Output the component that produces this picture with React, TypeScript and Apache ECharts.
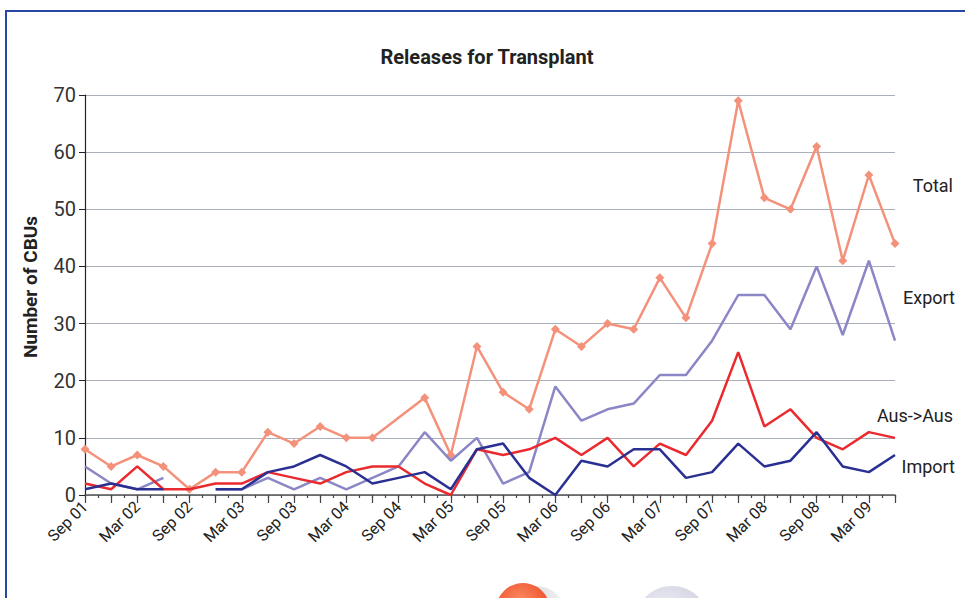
import React, { useEffect, useRef } from "react";
import * as echarts from "echarts";

const categories = [
  "Sep 01", "Dec 01", "Mar 02", "Jun 02", "Sep 02", "Dec 02", "Mar 03", "Jun 03",
  "Sep 03", "Dec 03", "Mar 04", "Jun 04", "Sep 04", "Dec 04", "Mar 05", "Jun 05",
  "Sep 05", "Dec 05", "Mar 06", "Jun 06", "Sep 06", "Dec 06", "Mar 07", "Jun 07",
  "Sep 07", "Dec 07", "Mar 08", "Jun 08", "Sep 08", "Dec 08", "Mar 09", "Jun 09",
];

const total = [8, 5, 7, 5, 1, 4, 4, 11, 9, 12, 10, 10, null, 17, 7, 26, 18, 15, 29, 26, 30, 29, 38, 31, 44, 69, 52, 50, 61, 41, 56, 44];
const exportVals = [5, 2, 1, 3, null, 1, 1, 3, 1, 3, 1, 3, 5, 11, 6, 10, 2, 4, 19, 13, 15, 16, 21, 21, 27, 35, 35, 29, 40, 28, 41, 27];
const ausToAus = [2, 1, 5, 1, 1, 2, 2, 4, 3, 2, 4, 5, 5, 2, 0, 8, 7, 8, 10, 7, 10, 5, 9, 7, 13, 25, 12, 15, 10, 8, 11, 10];
const importVals = [1, 2, 1, 1, null, 1, 1, 4, 5, 7, 5, 2, 3, 4, 1, 8, 9, 3, 0, 6, 5, 8, 8, 3, 4, 9, 5, 6, 11, 5, 4, 7];

const seriesNames = ["Total", "Export", "Aus->Aus", "Import"];
const yTicks = [0, 10, 20, 30, 40, 50, 60, 70];

const FONT = "Roboto, 'Noto Sans', sans-serif";

export default function App() {
  const ref = useRef<HTMLDivElement>(null);
  useEffect(() => {
    if (!ref.current) return;
    const chart = echarts.init(ref.current, undefined, { renderer: "svg" });
    const minorCats = Array.from({ length: categories.length * 2 - 1 }, () => "");
    chart.setOption({
      animation: false,
      backgroundColor: "#ffffff",
      textStyle: { fontFamily: FONT },
      grid: { left: 85, right: 70, top: 95, bottom: 103, containLabel: false },
      xAxis: [
        {
          type: "category",
          data: categories,
          boundaryGap: false,
          axisLine: { lineStyle: { color: "#555555", width: 1.5 } },
          axisTick: { interval: 0, length: 8, lineStyle: { color: "#444444", width: 1.2 } },
          axisLabel: {
            interval: 1,
            rotate: 45,
            fontSize: 16,
            color: "#222222",
            fontFamily: FONT,
            margin: 9,
          },
          splitLine: { show: false },
        },
        {
          type: "category",
          data: minorCats,
          boundaryGap: false,
          position: "bottom",
          axisLine: { show: false },
          axisTick: { interval: 0, length: 3, lineStyle: { color: "#444444", width: 1.2 } },
          axisLabel: { show: false },
          splitLine: { show: false },
        },
      ],
      yAxis: {
        type: "value",
        min: yTicks[0],
        max: yTicks[yTicks.length - 1],
        interval: 10,
        name: "Number of CBUs",
        nameLocation: "middle",
        nameGap: 45,
        nameTextStyle: { fontSize: 19, fontWeight: "bold", color: "#222222", fontFamily: FONT, padding: [0, 0, 0, 16] },
        axisLine: { show: true, lineStyle: { color: "#222222", width: 1.2 } },
        axisTick: { show: true, length: 6, lineStyle: { color: "#222222" } },
        axisLabel: { fontSize: 20, color: "#333333", margin: 9, fontFamily: FONT },
        splitLine: { lineStyle: { color: "#a9b0bb", width: 1.2 } },
      },
      series: [
        {
          name: seriesNames[0],
          type: "line",
          data: total,
          connectNulls: true,
          symbol: "diamond",
          symbolSize: 9,
          lineStyle: { color: "#f4917a", width: 2.5 },
          itemStyle: { color: "#f4917a" },
          z: 2,
        },
        {
          name: seriesNames[1],
          type: "line",
          data: exportVals,
          symbol: "none",
          lineStyle: { color: "#8b86c6", width: 2.5 },
          itemStyle: { color: "#8b86c6" },
          z: 3,
        },
        {
          name: seriesNames[2],
          type: "line",
          data: ausToAus,
          symbol: "none",
          lineStyle: { color: "#ea2a2e", width: 2.5 },
          itemStyle: { color: "#ea2a2e" },
          z: 4,
        },
        {
          name: seriesNames[3],
          type: "line",
          data: importVals,
          symbol: "none",
          lineStyle: { color: "#2a2f92", width: 2.5 },
          itemStyle: { color: "#2a2f92" },
          z: 5,
        },
      ],
      graphic: [
        {
          type: "rect",
          shape: { x: 6, y: 11, width: 1000, height: 700 },
          style: { fill: "none", stroke: "#2747a3", lineWidth: 2 },
          silent: true,
        },
        {
          type: "text",
          x: 487,
          y: 57,
          style: {
            text: "Releases for Transplant",
            fontSize: 20,
            fontWeight: "bold",
            fontFamily: FONT,
            fill: "#222222",
            align: "center",
            verticalAlign: "middle",
          },
        },
        { type: "text", x: 953, y: 185, style: { text: seriesNames[0], fontSize: 18, fontFamily: FONT, fill: "#222222", align: "right", verticalAlign: "middle" } },
        { type: "text", x: 955, y: 297, style: { text: seriesNames[1], fontSize: 18, fontFamily: FONT, fill: "#222222", align: "right", verticalAlign: "middle" } },
        { type: "text", x: 953, y: 415, style: { text: seriesNames[2], fontSize: 18, fontFamily: FONT, fill: "#222222", align: "right", verticalAlign: "middle" } },
        { type: "text", x: 955, y: 466, style: { text: seriesNames[3], fontSize: 18, fontFamily: FONT, fill: "#222222", align: "right", verticalAlign: "middle" } },
        {
          type: "circle",
          shape: { cx: 536, cy: 616, r: 30 },
          style: {
            fill: new echarts.graphic.RadialGradient(0.3, 0.3, 0.9, [
              { offset: 0, color: "rgba(160,160,170,0.5)" },
              { offset: 1, color: "rgba(160,160,170,0)" },
            ]),
          },
          silent: true,
        },
        {
          type: "circle",
          shape: { cx: 523, cy: 610, r: 27 },
          style: {
            fill: new echarts.graphic.RadialGradient(0.45, 0.35, 0.7, [
              { offset: 0, color: "#fb8d63" },
              { offset: 1, color: "#e9401c" },
            ]),
          },
          silent: true,
        },
        {
          type: "ellipse",
          shape: { cx: 672, cy: 620, rx: 36, ry: 34 },
          style: {
            fill: new echarts.graphic.RadialGradient(0.4, 0.4, 0.7, [
              { offset: 0, color: "#eeeef5" },
              { offset: 1, color: "#cfcfe0" },
            ]),
          },
          silent: true,
        },
      ],
    });
    return () => chart.dispose();
  }, []);
  return <div ref={ref} style={{ width: 965, height: 598, position: "absolute", left: 0, top: 0 }} />;
}
